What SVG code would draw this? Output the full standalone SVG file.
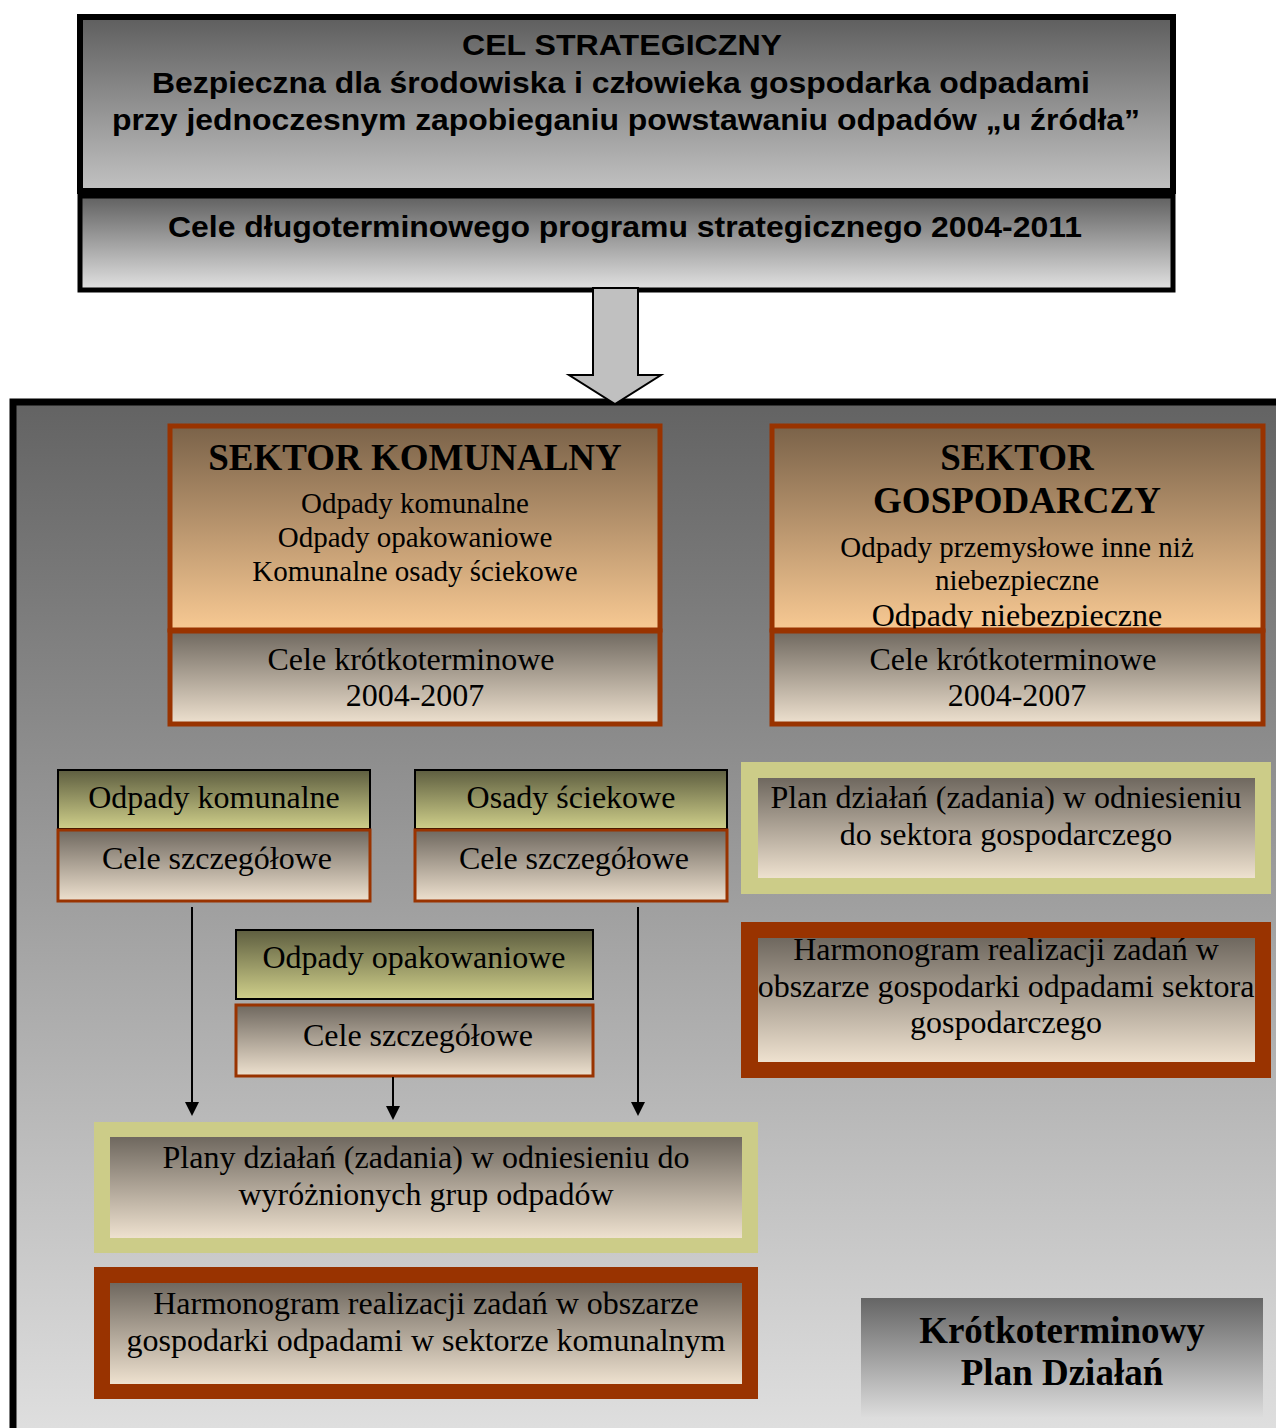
<svg xmlns="http://www.w3.org/2000/svg" width="1276" height="1428" viewBox="0 0 1276 1428">
<defs>
<linearGradient id="gTop" x1="0" y1="0" x2="0" y2="1"><stop offset="0" stop-color="#5e5e5e"/><stop offset="1" stop-color="#c2c2c2"/></linearGradient>
<linearGradient id="gTop2" x1="0" y1="0" x2="0" y2="1"><stop offset="0" stop-color="#606060"/><stop offset="1" stop-color="#e2e2e2"/></linearGradient>
<linearGradient id="gCont" x1="0" y1="0" x2="0" y2="1"><stop offset="0" stop-color="#636363"/><stop offset="1" stop-color="#e0e0e0"/></linearGradient>
<linearGradient id="gSect" x1="0" y1="0" x2="0" y2="1"><stop offset="0" stop-color="#7a6249"/><stop offset="1" stop-color="#f8c993"/></linearGradient>
<linearGradient id="gCele" x1="0" y1="0" x2="0" y2="1"><stop offset="0" stop-color="#6f685f"/><stop offset="1" stop-color="#eee1cf"/></linearGradient>
<linearGradient id="gOlive" x1="0" y1="0" x2="0" y2="1"><stop offset="0" stop-color="#5e5e40"/><stop offset="1" stop-color="#cfcf8a"/></linearGradient>
<linearGradient id="gLabel" x1="0" y1="0" x2="0" y2="1"><stop offset="0" stop-color="#656565"/><stop offset="1" stop-color="#dcdcdc"/></linearGradient>
</defs>
<style>
.sans{font-family:"Liberation Sans",Arial,sans-serif;font-weight:bold;font-size:30px;fill:#000;text-anchor:middle}
.ser{font-family:"Liberation Serif","Times New Roman",serif;fill:#000;text-anchor:middle}
.t32{font-size:32px}
.t29{font-size:29px}
.tb{font-size:37px;font-weight:bold}
.sectb{stroke:#993300;stroke-width:5}
.oliveb{fill:url(#gOlive);stroke:#000;stroke-width:2}
.celeb{fill:url(#gCele);stroke:#993300;stroke-width:3}
.conn{stroke:#000;stroke-width:2;fill:none}
.head{fill:#000}
</style>

<g id="container">
<rect x="13" y="402" width="1300" height="1040" fill="url(#gCont)" stroke="#000" stroke-width="7"/>
</g>

<g id="cel-strategiczny">
<rect x="80" y="17" width="1093" height="174" fill="url(#gTop)" stroke="#000" stroke-width="6"/>
<text class="sans" x="622" y="55" textLength="320" lengthAdjust="spacingAndGlyphs">CEL STRATEGICZNY</text>
<text class="sans" x="621" y="93" textLength="938" lengthAdjust="spacingAndGlyphs">Bezpieczna dla środowiska i człowieka gospodarka odpadami</text>
<text class="sans" x="626" y="130" textLength="1028" lengthAdjust="spacingAndGlyphs">przy jednoczesnym zapobieganiu powstawaniu odpadów „u źródła”</text>
</g>

<g id="cele-dlugoterminowe">
<rect x="80" y="196" width="1093" height="94" fill="url(#gTop2)" stroke="#000" stroke-width="5"/>
<text class="sans" x="625" y="237" textLength="914" lengthAdjust="spacingAndGlyphs">Cele długoterminowego programu strategicznego 2004-2011</text>
</g>

<g id="sektor-komunalny">
<rect x="170" y="426" width="490" height="204" fill="url(#gSect)" class="sectb"/>
<text class="ser tb" x="415" y="470">SEKTOR KOMUNALNY</text>
<text class="ser t29" x="415" y="513">Odpady komunalne</text>
<text class="ser t29" x="415" y="547">Odpady opakowaniowe</text>
<text class="ser t29" x="415" y="581">Komunalne osady ściekowe</text>
</g>
<g id="cele-krotko-komunalny">
<rect x="170" y="631" width="490" height="93" fill="url(#gCele)" class="sectb"/>
<text class="ser t32" x="411" y="670">Cele krótkoterminowe</text>
<text class="ser t32" x="415" y="706">2004-2007</text>
</g>

<g id="sektor-gospodarczy">
<rect x="772" y="426" width="491" height="204" fill="url(#gSect)" class="sectb"/>
<text class="ser tb" x="1017" y="470">SEKTOR</text>
<text class="ser tb" x="1017" y="513">GOSPODARCZY</text>
<text class="ser t29" x="1017" y="557">Odpady przemysłowe inne niż</text>
<text class="ser t29" x="1017" y="590">niebezpieczne</text>
<text class="ser t32" x="1017" y="626">Odpady niebezpieczne</text>
</g>
<g id="cele-krotko-gospodarczy">
<rect x="772" y="631" width="491" height="93" fill="url(#gCele)" class="sectb"/>
<text class="ser t32" x="1013" y="670">Cele krótkoterminowe</text>
<text class="ser t32" x="1017" y="706">2004-2007</text>
</g>

<g id="odpady-komunalne">
<rect x="58" y="770" width="312" height="59" class="oliveb"/>
<text class="ser t32" x="214" y="808">Odpady komunalne</text>
</g>
<g id="cele-szczegolowe-1">
<rect x="58" y="830" width="312" height="71" class="celeb"/>
<text class="ser t32" x="217" y="869">Cele szczegółowe</text>
</g>

<g id="osady-sciekowe">
<rect x="415" y="770" width="312" height="59" class="oliveb"/>
<text class="ser t32" x="571" y="808">Osady ściekowe</text>
</g>
<g id="cele-szczegolowe-2">
<rect x="415" y="830" width="312" height="71" class="celeb"/>
<text class="ser t32" x="574" y="869">Cele szczegółowe</text>
</g>

<g id="odpady-opakowaniowe">
<rect x="236" y="930" width="357" height="69" class="oliveb"/>
<text class="ser t32" x="414" y="968">Odpady opakowaniowe</text>
</g>
<g id="cele-szczegolowe-3">
<rect x="236" y="1005" width="357" height="71" class="celeb"/>
<text class="ser t32" x="418" y="1046">Cele szczegółowe</text>
</g>

<g id="plan-gospodarczy">
<rect x="741" y="762" width="530" height="132" fill="#cccc88"/>
<rect x="758" y="778" width="497" height="100" fill="url(#gCele)"/>
<text class="ser t32" x="1006" y="808">Plan działań (zadania) w odniesieniu</text>
<text class="ser t32" x="1006" y="845">do sektora gospodarczego</text>
</g>

<g id="harmonogram-gospodarczy">
<rect x="741" y="922" width="530" height="156" fill="#993300"/>
<rect x="758" y="938" width="497" height="124" fill="url(#gCele)"/>
<text class="ser t32" x="1006" y="960">Harmonogram realizacji zadań w</text>
<text class="ser t32" x="1006" y="997">obszarze gospodarki odpadami sektora</text>
<text class="ser t32" x="1006" y="1033">gospodarczego</text>
</g>

<g id="plany-grup">
<rect x="94" y="1122" width="664" height="131" fill="#cccc88"/>
<rect x="110" y="1137" width="632" height="101" fill="url(#gCele)"/>
<text class="ser t32" x="426" y="1168">Plany działań (zadania) w odniesieniu do</text>
<text class="ser t32" x="426" y="1205">wyróżnionych grup odpadów</text>
</g>

<g id="harmonogram-komunalny">
<rect x="94" y="1267" width="664" height="132" fill="#993300"/>
<rect x="110" y="1283" width="632" height="101" fill="url(#gCele)"/>
<text class="ser t32" x="426" y="1314">Harmonogram realizacji zadań w obszarze</text>
<text class="ser t32" x="426" y="1351">gospodarki odpadami w sektorze komunalnym</text>
</g>

<g id="krotkoterminowy-plan">
<rect x="861" y="1298" width="402" height="119" fill="url(#gLabel)"/>
<text class="ser tb" x="1062" y="1343">Krótkoterminowy</text>
<text class="ser tb" x="1062" y="1385">Plan Działań</text>
</g>

<g id="connectors">
<polygon points="593,288 638,288 638,375 661,375 615,404 569,375 593,375" fill="#c0c0c0" stroke="#000" stroke-width="2"/>
<line class="conn" x1="192" y1="907" x2="192" y2="1103"/>
<polygon class="head" points="185,1102 199,1102 192,1116"/>
<line class="conn" x1="393" y1="1077" x2="393" y2="1107"/>
<polygon class="head" points="386,1106 400,1106 393,1120"/>
<line class="conn" x1="638" y1="907" x2="638" y2="1103"/>
<polygon class="head" points="631,1102 645,1102 638,1116"/>
</g>
</svg>
